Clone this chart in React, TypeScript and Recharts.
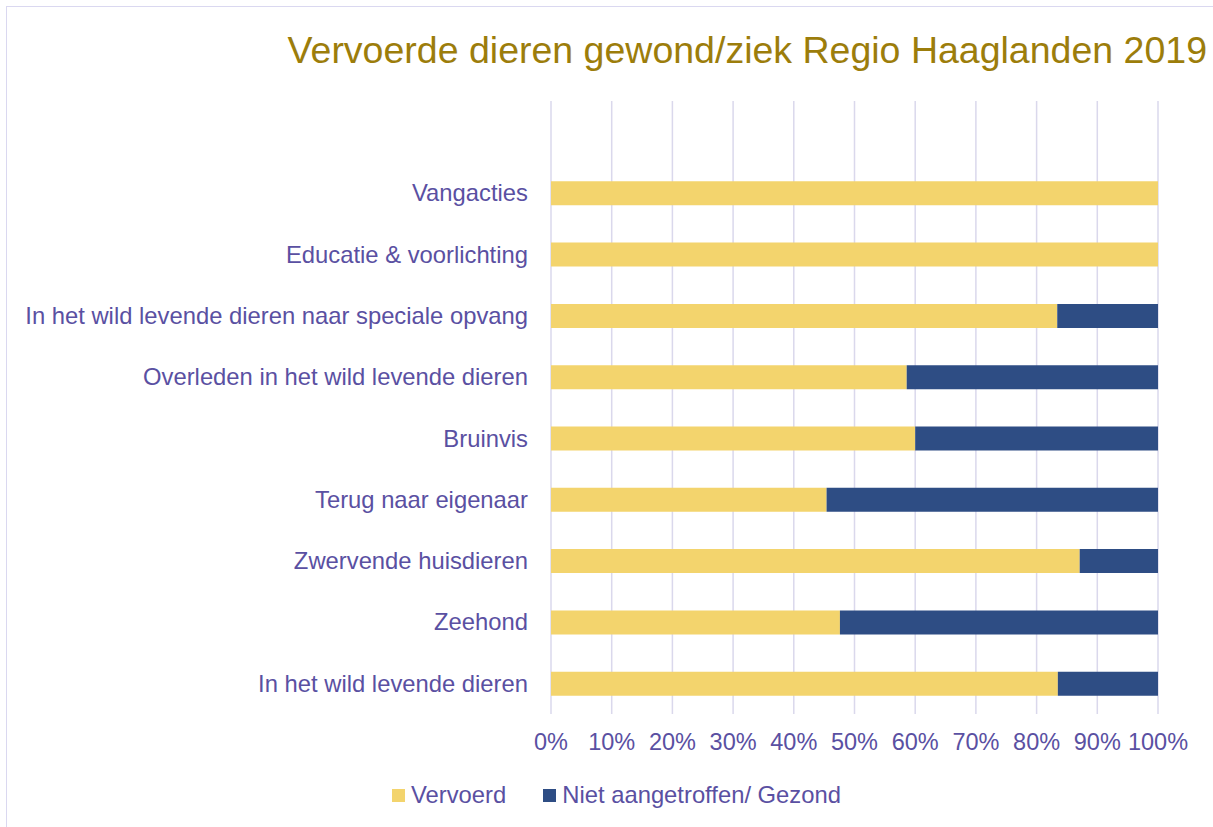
import { BarChart, Bar, XAxis, YAxis, CartesianGrid } from "recharts";

// first row is an empty category, as in the source chart
const categories = [
  "",
  "Vangacties",
  "Educatie & voorlichting",
  "In het wild levende dieren naar speciale opvang",
  "Overleden in het wild levende dieren",
  "Bruinvis",
  "Terug naar eigenaar",
  "Zwervende huisdieren",
  "Zeehond",
  "In het wild levende dieren",
];
const vervoerd = [null, 100, 100, 83.4, 58.6, 60.0, 45.4, 87.1, 47.6, 83.5];
const nietAangetroffen = [null, 0, 0, 16.6, 41.4, 40.0, 54.6, 12.9, 52.4, 16.5];
const xTicks = [0, 10, 20, 30, 40, 50, 60, 70, 80, 90, 100];
const seriesNames = ["Vervoerd", "Niet aangetroffen/ Gezond"];

const YELLOW = "#F3D46D";
const NAVY = "#2E4D84";
const TEXT = "#5A50A2";
const FONT = "'Liberation Sans', Arial, sans-serif";

const data = categories.map((name, i) => ({
  name,
  vervoerd: vervoerd[i],
  niet: nietAangetroffen[i],
}));

const App = () => {
  return (
    <div style={{ position: "absolute", left: 0, top: 0, width: 1213, height: 827, overflow: "hidden", background: "#fff", fontFamily: FONT }}>
      <div style={{ position: "absolute", left: 6, top: 6, width: 1400, height: 1000, border: "1.5px solid #DAD8F0" }} />
      <div style={{ position: "absolute", top: 32, right: 6, color: "#9C7D0B", fontSize: 37.5, lineHeight: 1, whiteSpace: "nowrap" }}>
        Vervoerde dieren gewond/ziek Regio Haaglanden 2019
      </div>
      <div style={{ position: "absolute", left: 0, top: 0 }}>
        <BarChart
          width={1213}
          height={827}
          data={data}
          layout="vertical"
          margin={{ top: 101, right: 55, bottom: 53, left: 0 }}
        >
          <CartesianGrid horizontal={false} stroke="#DAD8EC" strokeWidth={1.5} />
          <XAxis
            type="number"
            domain={[0, 100]}
            ticks={xTicks}
            tickFormatter={(v: number) => `${v}%`}
            axisLine={false}
            tickLine={false}
            tickSize={0}
            tickMargin={19}
            height={60}
            tick={{ fill: TEXT, fontSize: 23.5, fontFamily: FONT }}
          />
          <YAxis
            type="category"
            dataKey="name"
            width={551}
            axisLine={false}
            tickLine={false}
            tickSize={0}
            tickMargin={23}
            interval={0}
            tick={{ fill: TEXT, fontSize: 23.8, fontFamily: FONT }}
          />
          <Bar dataKey="vervoerd" name={seriesNames[0]} stackId="a" fill={YELLOW} barSize={24} isAnimationActive={false} />
          <Bar dataKey="niet" name={seriesNames[1]} stackId="a" fill={NAVY} barSize={24} isAnimationActive={false} />
        </BarChart>
      </div>
      <div style={{ position: "absolute", left: 392, top: 781, display: "flex", alignItems: "center", fontSize: 23.8, color: TEXT, lineHeight: "28px" }}>
        {seriesNames.map((name, i) => (
          <div key={name} style={{ display: "flex", alignItems: "center", marginRight: 37 }}>
            <div style={{ width: 13, height: 13, background: i === 0 ? YELLOW : NAVY, marginRight: 6 }} />
            <span>{name}</span>
          </div>
        ))}
      </div>
    </div>
  );
};

export default App;
